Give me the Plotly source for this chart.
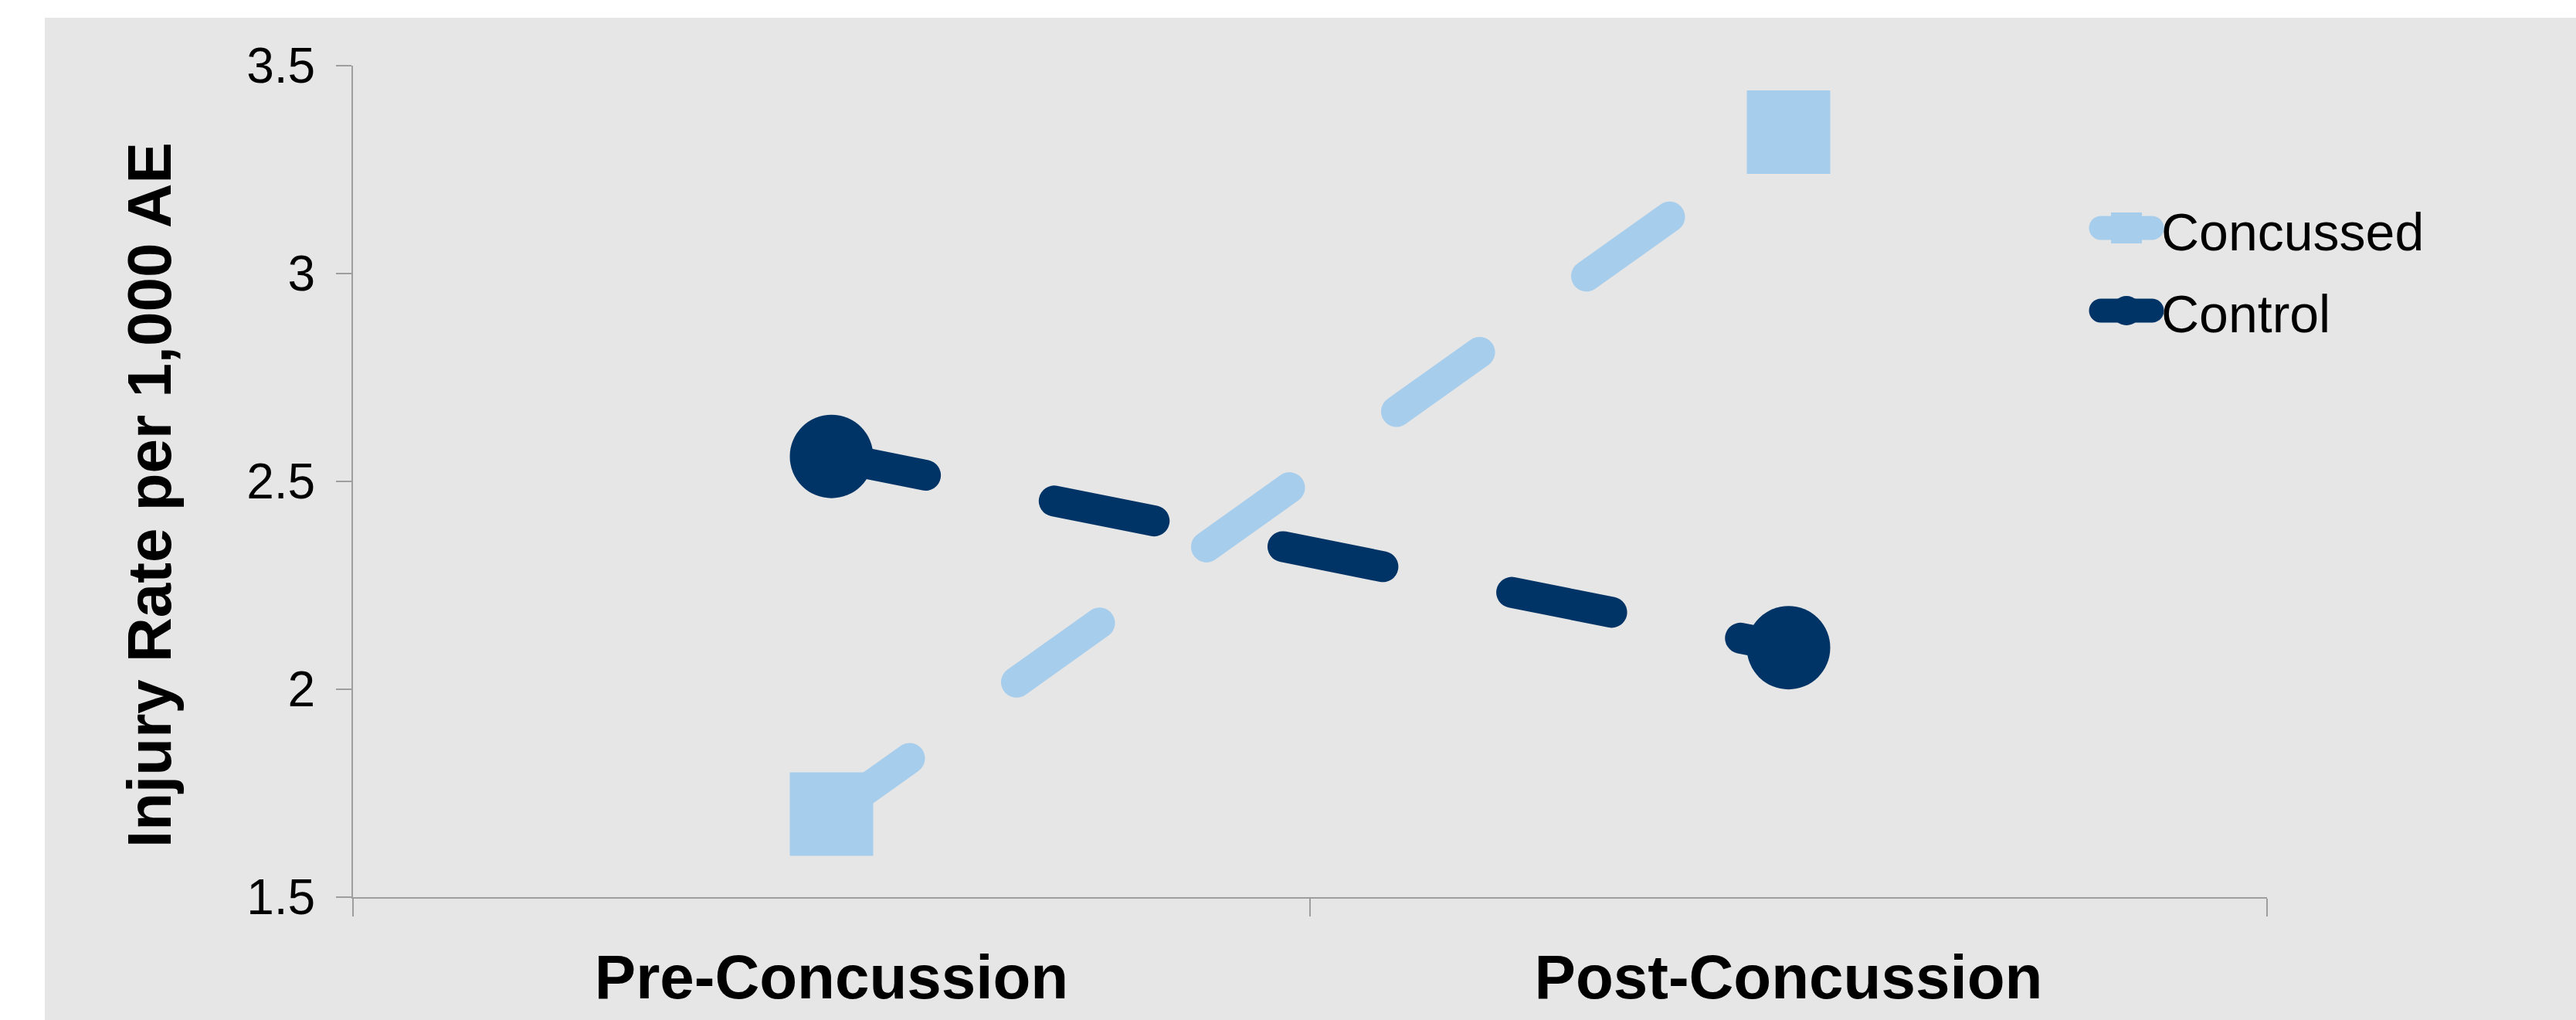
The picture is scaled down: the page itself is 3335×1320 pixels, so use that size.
import plotly.graph_objects as go

# ---------------- data ----------------
categories = ["Pre-Concussion", "Post-Concussion"]
series_names = ["Concussed", "Control"]
concussed = [1.70, 3.34]
control = [2.56, 2.10]
y_tick_values = [1.5, 2, 2.5, 3, 3.5]
y_tick_labels = ["1.5", "2", "2.5", "3", "3.5"]
y_title = "Injury Rate per 1,000 AE"

# ---------------- style ----------------
W, H = 3335, 1320
L, R, T, B = 457, 400, 85, 159
PW, PH = W - L - R, H - T - B
FONT = "Liberation Sans, Arial, Helvetica, sans-serif"
BG = "#E6E6E6"
AXIS = "#9E9E9E"
colors = ["#A7CDEC", "#003466"]
symbols = ["square", "circle"]
legend_symbol_sizes = [40, 38]


def px_x(p):
    return (p - L) / PW


def px_y(p):
    return (H - B - p) / PH


fig = go.Figure()

series_values = [concussed, control]
for name, vals, color, symbol in zip(series_names, series_values, colors, symbols):
    fig.add_trace(go.Scatter(
        x=categories, y=vals, mode="lines+markers", name=name,
        line=dict(color=color, width=40, dash="132px,170px"),
        marker=dict(symbol=symbol, size=108, color=color, line=dict(width=0)),
        showlegend=False, hoverinfo="skip", cliponaxis=False,
    ))

# custom legend (glyphs drawn on an overlay axis spanning the plot area)
legend_rows = [295, 402]
text_rows = [300, 406]
gx0, gx1 = px_x(2720), px_x(2786)
gmid = (gx0 + gx1) / 2
for name, color, symbol, msize, ry, ty in zip(series_names, colors, symbols,
                                              legend_symbol_sizes, legend_rows, text_rows):
    fig.add_trace(go.Scatter(
        x=[gx0, gx1], y=[px_y(ry)] * 2, mode="lines", xaxis="x2", yaxis="y2",
        line=dict(color=color, width=31), showlegend=False, hoverinfo="skip",
        cliponaxis=False,
    ))
    fig.add_trace(go.Scatter(
        x=[gmid], y=[px_y(ry)], mode="markers", xaxis="x2", yaxis="y2",
        marker=dict(symbol=symbol, size=msize, color=color, line=dict(width=0)),
        showlegend=False, hoverinfo="skip", cliponaxis=False,
    ))
    fig.add_annotation(
        x=px_x(2796), y=px_y(ty), xref="paper", yref="paper",
        xanchor="left", yanchor="middle", text=name, showarrow=False,
        font=dict(family=FONT, size=68, color="black"),
    )

# y-axis title
fig.add_annotation(
    x=px_x(193), y=px_y(641), xref="paper", yref="paper",
    xanchor="center", yanchor="middle", text=y_title, textangle=-90,
    showarrow=False, font=dict(family=FONT, size=80, color="black", weight="bold"),
)

# gray panel
fig.add_shape(
    type="rect", xref="paper", yref="paper",
    x0=px_x(58), x1=px_x(W + 5), y0=px_y(H + 5), y1=px_y(23),
    fillcolor=BG, line=dict(width=0), layer="below",
)

fig.update_layout(
    width=W, height=H,
    margin=dict(l=L, r=R, t=T, b=B, pad=0),
    paper_bgcolor="white", plot_bgcolor=BG,
    font=dict(family=FONT, color="black"),
    showlegend=False,
    xaxis=dict(
        type="category", categoryorder="array", categoryarray=categories,
        range=[-0.5, 1.5], tickson="boundaries",
        showline=True, linecolor=AXIS, linewidth=2,
        ticks="outside", ticklen=23, tickcolor=AXIS, tickwidth=2,
        showgrid=False, zeroline=False,
        tickfont=dict(family=FONT, size=80, color="black", weight="bold"),
        ticklabelstandoff=33,
    ),
    yaxis=dict(
        range=[1.5, 3.5], tickmode="array", tickvals=y_tick_values, ticktext=y_tick_labels,
        showline=True, linecolor=AXIS, linewidth=2,
        ticks="outside", ticklen=20, tickcolor=AXIS, tickwidth=2,
        showgrid=False, zeroline=False,
        tickfont=dict(family=FONT, size=64, color="black"),
        ticklabelstandoff=14,
    ),
    xaxis2=dict(overlaying="x", range=[0, 1], anchor="y2", visible=False, fixedrange=True),
    yaxis2=dict(overlaying="y", range=[0, 1], anchor="x2", visible=False, fixedrange=True),
)

post = """
document.body.style.margin='0';
document.body.style.overflow='hidden';
var gd=document.getElementById('{plot_id}');
gd.querySelectorAll('.scatterlayer .js-line').forEach(function(p){
  p.style.strokeLinecap='round';
  p.style.strokeDashoffset='8px';
});
"""

fig.write_html("out.html", config={"displayModeBar": False}, post_script=post)
